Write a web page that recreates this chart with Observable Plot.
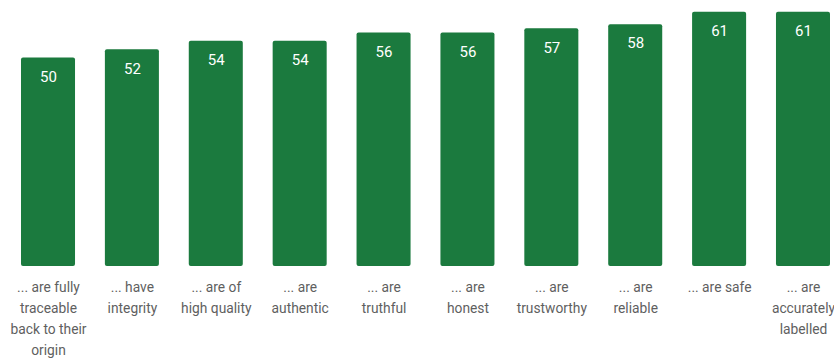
<!DOCTYPE html>
<html>
<head>
<meta charset="utf-8">
<script src="https://cdn.jsdelivr.net/npm/d3@7"></script>
<script src="https://cdn.jsdelivr.net/npm/@observablehq/plot@0.6"></script>
<style>
  html, body { margin: 0; padding: 0; background: #fff; }
  #chart { width: 834px; height: 359px; }
</style>
</head>
<body>
<div id="chart"></div>
<script>
const categories = [
  "... are fully\ntraceable\nback to their\norigin",
  "... have\nintegrity",
  "... are of\nhigh quality",
  "... are\nauthentic",
  "... are\ntruthful",
  "... are\nhonest",
  "... are\ntrustworthy",
  "... are\nreliable",
  "... are safe",
  "... are\naccurately\nlabelled"
];
const values = [50, 52, 54, 54, 56, 56, 57, 58, 61, 61];

const data = categories.map((c, i) => ({category: c, value: values[i]}));

const chart = Plot.plot({
  width: 834,
  height: 359,
  marginTop: 0,
  marginLeft: 21,
  marginRight: 4,
  marginBottom: 93,
  style: {fontFamily: "Roboto, sans-serif", background: "#fff", overflow: "visible"},
  x: {domain: categories, paddingInner: 0.356, paddingOuter: 0, round: false, axis: null},
  y: {domain: [0, 63.8], axis: null},
  marks: [
    Plot.barY(data, {x: "category", y: "value", fill: "#1b7a3e", rx: 2}),
    Plot.text(data, {x: "category", y: "value", text: d => String(d.value), dy: 19, fill: "#ffffff", fontSize: 15}),
    Plot.text(data, {x: "category", y: 0, text: "category", lineAnchor: "top", dy: 10.5, fill: "#5f5f5f", fontSize: 13.8, lineHeight: 1.52})
  ]
});
document.getElementById("chart").appendChild(chart);
</script>
</body>
</html>
